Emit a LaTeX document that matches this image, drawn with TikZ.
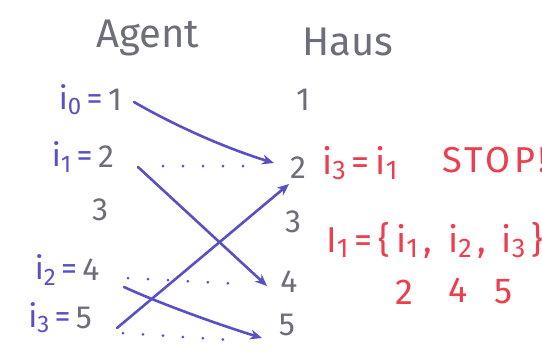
\documentclass[tikz,border=0pt]{standalone}
\usepackage{fontspec}
\setmainfont{Fira Sans}
\usetikzlibrary{arrows.meta}
\definecolor{pen}{RGB}{110,110,122}
\definecolor{ink}{RGB}{88,80,196}
\definecolor{redink}{RGB}{236,62,78}
\newcommand\sbs[1]{\raisebox{-0.3ex}{\scalebox{0.75}{#1}}}
\begin{document}
\begin{tikzpicture}[x=1pt,y=-1pt,
  head/.style={font=\fontsize{40}{44}\selectfont, text=pen, inner sep=0pt},
  num/.style={font=\fontsize{32}{36}\selectfont, text=pen, inner sep=0pt},
  lab/.style={font=\fontsize{32}{36}\selectfont, text=ink, inner sep=0pt},
  note/.style={font=\fontsize{36}{40}\selectfont, text=redink, inner sep=0pt},
  link/.style={draw=ink, line width=2.6pt, line cap=round, -{Stealth[length=12pt,width=10pt]}},
  dots/.style={draw=ink, line width=3pt, line cap=round, dash pattern=on 0pt off 20pt},
]
\useasboundingbox (0,0) rectangle (542,360);
\fill[white] (0,0) rectangle (542,360);

\node[head] (agent) at (148,38) {Agent};
\node[head] (haus) at (348,42) {Haus};

\node[num] (a1) at (115,100) {1};
\node[num] (a2) at (106,157) {2};
\node[num] (a3) at (100,210) {3};
\node[num] (a4) at (91,270) {4};
\node[num] (a5) at (84,318) {5};

\node[lab, anchor=east] (l0) at ([xshift=-5pt]a1.west) {i\sbs{0}\,=};
\node[lab, anchor=east] (l1) at ([xshift=-5pt]a2.west) {i\sbs{1}\,=};
\node[lab, anchor=east] (l2) at ([xshift=-5pt]a4.west) {i\sbs{2}\,=};
\node[lab, anchor=east] (l3) at ([xshift=-5pt]a5.west) {i\sbs{3}\,=};

\node[num] (h1) at (303,100) {1};
\node[num] (h2) at (298,168) {2};
\node[num] (h3) at (293,222) {3};
\node[num] (h4) at (289,282) {4};
\node[num] (h5) at (287,325) {5};

\coordinate (s1) at (134,102); \coordinate (e1) at (274,163);
\coordinate (s2) at (138,167); \coordinate (e2) at (267,286);
\coordinate (s3) at (117,328); \coordinate (e3) at (289,184);
\coordinate (s4) at (124,287); \coordinate (e4) at (262,338);

\draw[link] (s1) .. controls (172,124) and (222,147) .. (e1);
\draw[link] (s2) -- (e2);
\draw[link] (s3) -- (e3);
\draw[link] (s4) .. controls (152,300) and (210,322) .. (e4);

\coordinate (d1a) at (163,166); \coordinate (d1b) at (250,166);
\coordinate (d2a) at (128,278); \coordinate (d2b) at (240,284);
\coordinate (d3a) at (123,333); \coordinate (d3b) at (230,340);
\draw[dots] (d1a) -- (d1b);
\draw[dots] (d2a) -- (d2b);
\draw[dots] (d3a) -- (d3b);

\node[note, anchor=west] (eq) at (322,163) {i\sbs{3}\,=\,i\sbs{1}};
\node[note, anchor=west] (stop) at (442,160) {\addfontfeature{LetterSpace=10}STOP!};
\node[note, anchor=west] (set) at (326,240) {I\sbs{1}\,=\,\{\,i\sbs{1}\,,\, i\sbs{2}\,,\, i\sbs{3}\,\}};
\node[note] (n2) at (404,292) {2};
\node[note] (n4) at (458,290) {4};
\node[note] (n5) at (504,292) {5};
\end{tikzpicture}
\end{document}
